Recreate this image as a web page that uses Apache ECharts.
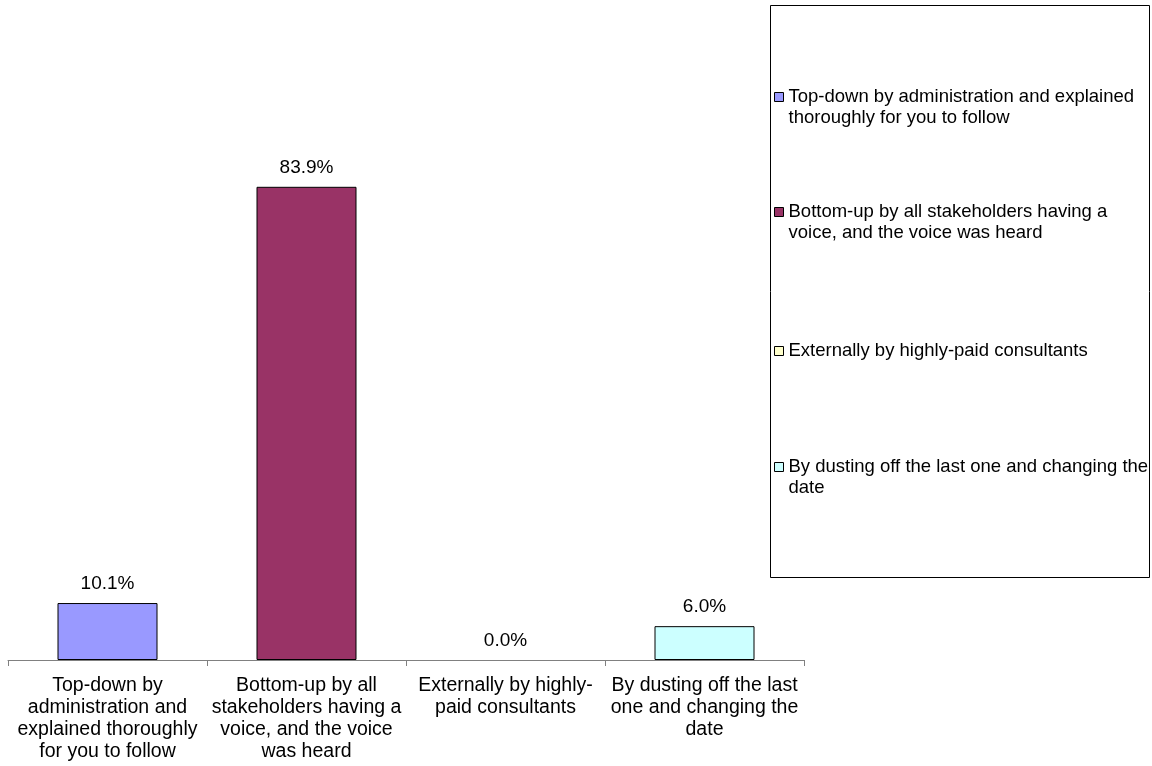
<!DOCTYPE html>
<html>
<head>
<meta charset="utf-8">
<title>How was the plan developed?</title>
<script src="https://cdn.jsdelivr.net/npm/echarts@6/dist/echarts.min.js"></script>
<style>
  html, body { margin: 0; padding: 0; background: #ffffff; }
  #chart { width: 1152px; height: 766px; }
</style>
</head>
<body>
<div id="chart"></div>
<script>
// Answer options (series / category names)
var categories = [
  'Top-down by administration and explained thoroughly for you to follow',
  'Bottom-up by all stakeholders having a voice, and the voice was heard',
  'Externally by highly-paid consultants',
  'By dusting off the last one and changing the date'
];

// Share of responses, percent
var values = [10.1, 83.9, 0.0, 6.0];

// Bar fill colours
var colors = ['#9999FF', '#993366', '#FFFFCC', '#CCFFFF'];

// Wrapped text under the category axis
var axisLabelLines = [
  'Top-down by\nadministration and\nexplained thoroughly\nfor you to follow',
  'Bottom-up by all\nstakeholders having a\nvoice, and the voice\nwas heard',
  'Externally by highly-\npaid consultants',
  'By dusting off the last\none and changing the\ndate'
];

// Wrapped text in the legend
var legendLines = [
  'Top-down by administration and explained\nthoroughly for you to follow',
  'Bottom-up by all stakeholders having a\nvoice, and the voice was heard',
  'Externally by highly-paid consultants',
  'By dusting off the last one and changing the\ndate'
];

// Value axis range
var yMin = 0;
var yMax = 100;

var FONT = "'Liberation Sans', Arial, sans-serif";

// One series per answer, stacked so each bar sits centred in its own slot
var series = categories.map(function (name, i) {
  var data = categories.map(function (c, j) {
    if (j !== i) return '-';
    return {
      value: values[i],
      itemStyle: { borderWidth: values[i] > 0 ? 1 : 0 }
    };
  });
  return {
    name: name,
    type: 'bar',
    stack: 'all',
    barWidth: 100,
    data: data,
    itemStyle: { color: colors[i], borderColor: '#000000', borderWidth: 1 },
    label: {
      show: true,
      position: 'top',
      distance: 10,
      fontFamily: FONT,
      fontSize: 19,
      color: '#000000',
      formatter: function (p) { return Number(p.value).toFixed(1) + '%'; }
    },
    emphasis: { disabled: true }
  };
});

// Legend text is centred on its icon; for wrapped entries a leading blank line
// keeps the icon level with the first line of text.
function legendText(name) {
  var t = legendLines[categories.indexOf(name)];
  return t.indexOf('\n') >= 0 ? '\n' + t : t;
}

// Each legend entry is placed in its own slot inside the boxed panel
var legendTops = [65.5, 180.5, 340.5, 435.5];
var legends = categories.map(function (name, i) {
  return {
    data: [name],
    left: 774,
    top: legendTops[i],
    orient: 'vertical',
    padding: 0,
    icon: 'rect',
    itemWidth: 9,
    itemHeight: 9,
    selectedMode: false,
    itemStyle: { borderColor: '#000000', borderWidth: 1 },
    formatter: legendText,
    textStyle: {
      fontFamily: FONT,
      fontSize: 18.5,
      lineHeight: 21,
      color: '#000000'
    }
  };
});

var chart = echarts.init(document.getElementById('chart'), null, { renderer: 'canvas' });

chart.setOption({
  backgroundColor: '#ffffff',
  animation: false,
  color: colors,
  grid: { left: 8, right: 348, top: 96, bottom: 106, containLabel: false },
  legend: legends,
  graphic: [{
    type: 'rect',
    shape: { x: 770.5, y: 5.5, width: 379, height: 572 },
    style: { fill: 'none', stroke: '#000000', lineWidth: 1 },
    silent: true
  }],
  xAxis: {
    type: 'category',
    data: categories,
    boundaryGap: true,
    axisLine: { show: true, lineStyle: { color: '#808080', width: 1 } },
    axisTick: { show: true, length: 6, alignWithLabel: false, lineStyle: { color: '#808080' } },
    axisLabel: {
      interval: 0,
      margin: 15,
      fontFamily: FONT,
      fontSize: 19.5,
      lineHeight: 22,
      color: '#000000',
      align: 'center',
      formatter: function (v) { return axisLabelLines[categories.indexOf(v)]; }
    },
    splitLine: { show: false }
  },
  yAxis: {
    type: 'value',
    min: yMin,
    max: yMax,
    show: false,
    splitLine: { show: false }
  },
  series: series
});
</script>
</body>
</html>
